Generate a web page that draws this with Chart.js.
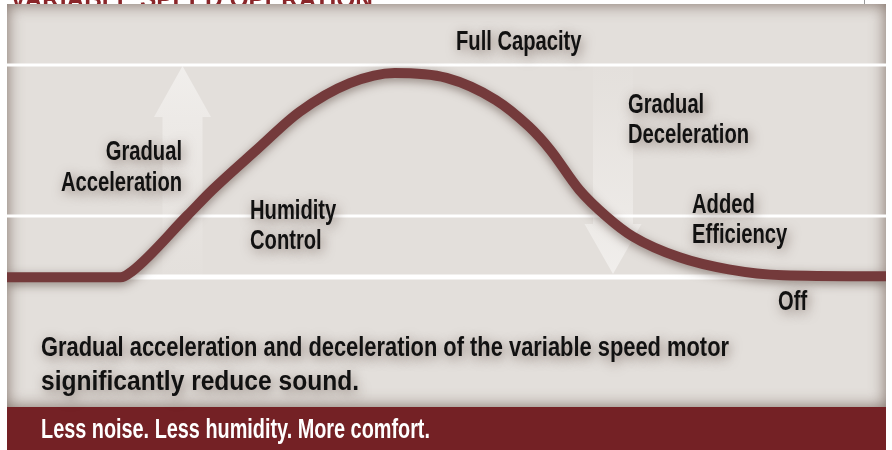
<!DOCTYPE html>
<html>
<head>
<meta charset="utf-8">
<title>Variable Speed Operation</title>
<script src="https://cdn.jsdelivr.net/npm/chart.js@4.4.1/dist/chart.umd.min.js"></script>
<style>
  html, body { margin: 0; padding: 0; background: #fff; }
  #chartWrap { width: 892px; height: 450px; }
</style>
</head>
<body>
<div id="chartWrap"><canvas id="speedChart" width="892" height="450"></canvas></div>
<script>
// Motor speed over one cycle (x = % of cycle time, y = % of full speed)
const cycleTime  = [0, 12.9, 14.2, 20.5, 23.4, 28.4, 33.3, 39, 44.1, 50, 55.6, 59.4, 61.8, 65.1, 68.2, 71.2, 76.5, 82.1, 88.3, 100];
const motorSpeed = [0, 0, 2.9, 30.2, 42.9, 62.4, 81, 95, 100, 97.6, 86.8, 73.7, 62.4, 42.9, 29.8, 20, 9.8, 3.9, 1, 0.5];

// White guide lines behind the curve (speed %)
const guideLevels = [0, 30, 104];

const titleText  = 'VARIABLE SPEED OPERATION';
const footerText = 'Less noise. Less humidity. More comfort.';
const noteLines  = [
  'Gradual acceleration and deceleration of the variable speed motor',
  'significantly reduce sound.'
];
const stageLabels = [
  'Full Capacity', 'Gradual', 'Acceleration', 'Humidity', 'Control',
  'Gradual', 'Deceleration', 'Added', 'Efficiency', 'Off'
];

// where each text sits: [x, baseline, align]
const stageLayout = [
  [456, 50, 'left'],
  [182, 160, 'right'],
  [61, 191, 'left'],
  [250, 219, 'left'],
  [250, 249, 'left'],
  [628, 113, 'left'],
  [628, 143, 'left'],
  [692, 213, 'left'],
  [692, 243, 'left'],
  [778, 310, 'left']
];
// note lines: [x, baseline, width]
const noteLayout = [[41, 356, 688], [41, 390, 318]];

const FONT = '"Liberation Sans", Arial, sans-serif';
const FONT_SIZE = 27;
const SQUEEZE = 0.747;  // condensed look

function drawCondensed(ctx, text, x, y, align, width) {
  ctx.font = 'bold ' + FONT_SIZE + 'px ' + FONT;
  const raw = ctx.measureText(text).width;
  const k = width ? width / raw : SQUEEZE;
  const w = raw * k;
  ctx.save();
  ctx.translate(align === 'right' ? x - w : x, y);
  ctx.scale(k, 1);
  ctx.fillText(text, 0, 0);
  ctx.restore();
}

function drawArrow(ctx, cx, tipY, baseY, shaftW, headW, headLen, up) {
  const dir = up ? 1 : -1;
  const neck = tipY + dir * headLen;
  ctx.beginPath();
  ctx.moveTo(cx, tipY);
  ctx.lineTo(cx + headW / 2, neck);
  ctx.lineTo(cx + shaftW / 2, neck);
  ctx.lineTo(cx + shaftW / 2, baseY);
  ctx.lineTo(cx - shaftW / 2, baseY);
  ctx.lineTo(cx - shaftW / 2, neck);
  ctx.lineTo(cx - headW / 2, neck);
  ctx.closePath();
  const g = ctx.createLinearGradient(0, tipY, 0, baseY);
  g.addColorStop(0, 'rgba(244,242,240,0.8)');
  g.addColorStop(0.6, 'rgba(240,237,234,0.45)');
  g.addColorStop(1, 'rgba(236,233,230,0.1)');
  ctx.fillStyle = g;
  ctx.fill();
}

const backdropPlugin = {
  id: 'backdrop',
  beforeDraw(chart) {
    const ctx = chart.ctx;
    const a = chart.chartArea;
    ctx.save();
    ctx.fillStyle = '#ffffff';
    ctx.fillRect(0, 0, chart.width, chart.height);

    // title, mostly hidden behind the panel
    ctx.fillStyle = '#8a2629';
    ctx.font = 'bold 28px ' + FONT;
    ctx.save();
    ctx.translate(10, 8);
    ctx.scale(363 / ctx.measureText(titleText).width, 1);
    ctx.fillText(titleText, 0, 0);
    ctx.restore();

    ctx.strokeStyle = '#9a9a9a';
    ctx.lineWidth = 1;
    ctx.beginPath();
    ctx.moveTo(864.5, 0);
    ctx.lineTo(864.5, a.top);
    ctx.stroke();

    // panel with soft inner shadow
    ctx.fillStyle = '#e3dfdb';
    ctx.fillRect(a.left, a.top, a.width, a.height);
    ctx.save();
    ctx.beginPath();
    ctx.rect(a.left, a.top, a.width, a.height);
    ctx.clip();
    ctx.shadowColor = 'rgba(110,92,82,0.85)';
    ctx.shadowBlur = 16;
    ctx.strokeStyle = '#8a7a70';
    ctx.lineWidth = 20;
    ctx.strokeRect(a.left - 10, a.top - 10, a.width + 20, a.height + 20);
    ctx.restore();

    // faint up / down arrows
    drawArrow(ctx, 182.5, 66, 276, 40, 57, 51, true);
    drawArrow(ctx, 613, 274, 66, 40, 57, 50, false);

    // white guide lines
    const y = chart.scales.y;
    ctx.strokeStyle = '#ffffff';
    guideLevels.forEach(v => {
      ctx.lineWidth = v === 0 ? 5 : 3;
      const py = Math.round(y.getPixelForValue(v));
      ctx.beginPath();
      ctx.moveTo(a.left, py);
      ctx.lineTo(a.right, py);
      ctx.stroke();
    });

    // footer band
    ctx.fillStyle = '#742125';
    ctx.fillRect(a.left, a.bottom, a.width, chart.height - a.bottom);
    ctx.restore();
  },
  beforeDatasetsDraw(chart) {
    const ctx = chart.ctx;
    ctx.save();
    ctx.shadowColor = 'rgba(70,50,42,0.5)';
    ctx.shadowBlur = 10;
    ctx.shadowOffsetY = 3;
  },
  afterDatasetsDraw(chart) {
    chart.ctx.restore();
  },
  afterDraw(chart) {
    const ctx = chart.ctx;
    ctx.save();
    ctx.fillStyle = '#111111';
    ctx.shadowColor = 'rgba(80,58,48,0.6)';
    ctx.shadowBlur = 12;
    ctx.shadowOffsetX = 2;
    ctx.shadowOffsetY = 3;
    stageLabels.forEach((t, i) => {
      const [x, y, align] = stageLayout[i];
      drawCondensed(ctx, t, x, y, align);
    });
    noteLines.forEach((t, i) => {
      const [x, y, w] = noteLayout[i];
      drawCondensed(ctx, t, x, y, 'left', w);
    });
    ctx.shadowColor = 'transparent';
    ctx.fillStyle = '#ffffff';
    drawCondensed(ctx, footerText, 41, 438, 'left', 389);
    ctx.restore();
  }
};

const ctx = document.getElementById('speedChart').getContext('2d');
window.speedChart = new Chart(ctx, {
  type: 'line',
  data: {
    datasets: [{
      label: 'Motor speed',
      data: cycleTime.map((t, i) => ({ x: t, y: motorSpeed[i] })),
      borderColor: '#743a3b',
      borderWidth: 10,
      borderCapStyle: 'butt',
      pointRadius: 0,
      cubicInterpolationMode: 'monotone',
      fill: false
    }]
  },
  options: {
    responsive: false,
    devicePixelRatio: 1,
    animation: false,
    events: [],
    layout: { padding: { left: 7, right: 6, top: 4, bottom: 43 } },
    plugins: { legend: { display: false }, tooltip: { enabled: false } },
    scales: {
      x: { type: 'linear', min: 0, max: 100, display: false },
      y: { type: 'linear', min: -63.4, max: 133.7, display: false }
    }
  },
  plugins: [backdropPlugin]
});
</script>
</body>
</html>
